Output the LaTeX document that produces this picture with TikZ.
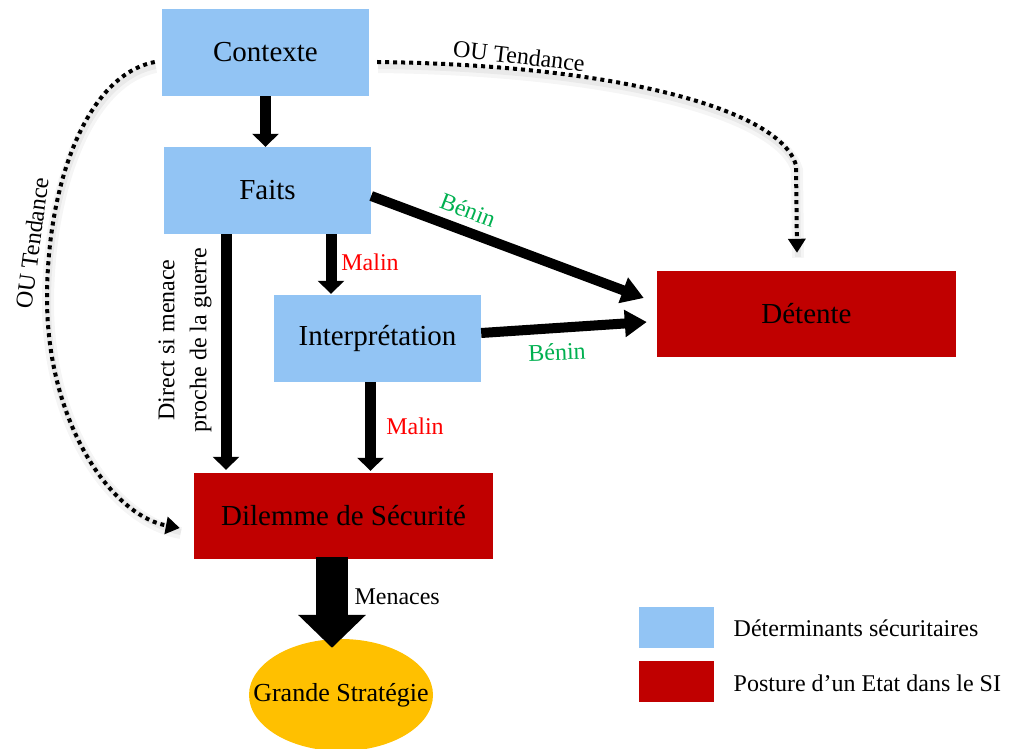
\documentclass[tikz,border=0pt]{standalone}
\usepackage{fontspec}
\setmainfont{Liberation Serif}
\usetikzlibrary{arrows.meta,calc,shapes.geometric}
\definecolor{detblue}{RGB}{146,196,244}
\definecolor{postred}{RGB}{192,0,0}
\definecolor{stratgold}{RGB}{255,192,0}
\definecolor{benign}{RGB}{0,176,80}
\definecolor{malign}{RGB}{255,0,0}

\begin{document}
\begin{tikzpicture}[x=1pt,y=-1pt,
  boxtext/.style={font=\fontsize{29}{34}\selectfont},
  smalltext/.style={font=\fontsize{24}{32}\selectfont},
  determinant/.style={rectangle, fill=detblue, minimum width=207pt, minimum height=87pt, inner sep=0pt, boxtext},
  posture/.style={rectangle, fill=postred, minimum width=299pt, minimum height=86pt, inner sep=0pt, boxtext},
  keybox/.style={rectangle, minimum width=75pt, minimum height=41pt, inner sep=0pt},
  flow/.style={line width=11pt, -{Triangle[width=26pt,length=13pt]}},
  slant/.style={line width=10pt, -{Triangle[width=26pt,length=22pt]}},
  heavy/.style={line width=32pt, -{Triangle[width=66pt,length=33pt]}},
  tendency/.style={line width=4pt, dash pattern=on 4pt off 4pt, -{Triangle[width=17pt,length=14pt]}},
  shadowwide/.style={line width=12pt, draw=black, opacity=0.04, arrows=-, transform canvas={xshift=1pt,yshift=-5pt}},
  shadownarrow/.style={line width=6pt, draw=black, opacity=0.05, arrows=-, transform canvas={xshift=1pt,yshift=-4pt}},
]
\useasboundingbox (0,0) rectangle (1009,749);

% blocks
\node[determinant] (ctx) at (265.5,52.5) {Contexte};
\node[determinant] (faits) at (267.5,190.5) {Faits};
\node[determinant] (interp) at (377.5,338.5) {Interprétation};
\node[posture] (detente) at (806.5,314) {Détente};
\node[posture] (dilemme) at (343.5,516) {Dilemme de Sécurité};
\node[ellipse, fill=stratgold, minimum width=184pt, minimum height=112pt, inner sep=0pt,
      label={[font=\fontsize{26}{30}\selectfont]center:Grande Stratégie}] (gs) at (341,695) {};

% straight causal links
\draw[flow] (ctx.south) -- (ctx.south |- faits.north);
\coordinate (fd) at ([xshift=-41.5pt]faits.south);
\draw[flow] (fd) -- ($(fd |- dilemme.north)+(0,-3)$);
\coordinate (fi) at ([xshift=63.5pt]faits.south);
\draw[flow] (fi) -- ($(fi |- interp.north)+(0,-1)$);
\coordinate (id) at ([xshift=-7pt]interp.south);
\draw[flow] (id) -- ($(id |- dilemme.north)+(0,-2)$);
\draw[slant] ([yshift=-5.5pt]faits.east) -- ([xshift=-13pt,yshift=16pt]detente.west);
\draw[slant] ([yshift=5.5pt]interp.east) -- ([xshift=-10pt,yshift=-8pt]detente.west);
\coordinate (mt) at ([xshift=-11.5pt,yshift=2pt]dilemme.south);
\draw[heavy] (mt) -- ($(mt |- gs.north)+(0,9)$);

% trend links
\def\routeright{([xshift=8pt,yshift=-9.5pt]ctx.east) .. controls (620,65) and (780,110) .. (796,165) -- ([xshift=-9.5pt,yshift=18pt]detente.north)}
\def\routeleft{([xshift=-7pt,yshift=-9.5pt]ctx.west) .. controls (88,75) and (48,180) .. (47,295) .. controls (46,420) and (110,515) .. ([xshift=-14pt,yshift=-12pt]dilemme.west)}
\draw[shadowwide] \routeright;
\draw[shadowwide] \routeleft;
\draw[shadownarrow] \routeright;
\draw[shadownarrow] \routeleft;
\draw[tendency] \routeright;
\draw[tendency] \routeleft;

% labels
\node[smalltext, rotate=-6.5] (lt1) at (519,56) {OU Tendance};
\node[smalltext, rotate=82.4] (lt2) at (32,243) {OU Tendance};
\node[smalltext, rotate=90, align=center] (ldirect) at (185,340) {Direct si menace\\proche de la guerre};
\node[smalltext, text=malign] (lm1) at (370,262) {Malin};
\node[smalltext, text=malign] (lm2) at (415,426) {Malin};
\node[smalltext, text=benign, rotate=-21] (lb1) at (468,210) {Bénin};
\node[smalltext, text=benign, rotate=2] (lb2) at (557,352) {Bénin};
\node[smalltext, anchor=west] (lmen) at (351,597) {Menaces};

% key
\node[keybox, fill=detblue] (keyA) at (676.5,627.5) {};
\node[keybox, fill=postred] (keyB) at (676.5,681.5) {};
\node[smalltext, anchor=west] (keyAt) at ([xshift=16pt,yshift=-1pt]keyA.east) {Déterminants sécuritaires};
\node[smalltext, anchor=west] (keyBt) at ([xshift=16pt,yshift=-2pt]keyB.east) {Posture d’un Etat dans le SI};
\end{tikzpicture}
\end{document}
